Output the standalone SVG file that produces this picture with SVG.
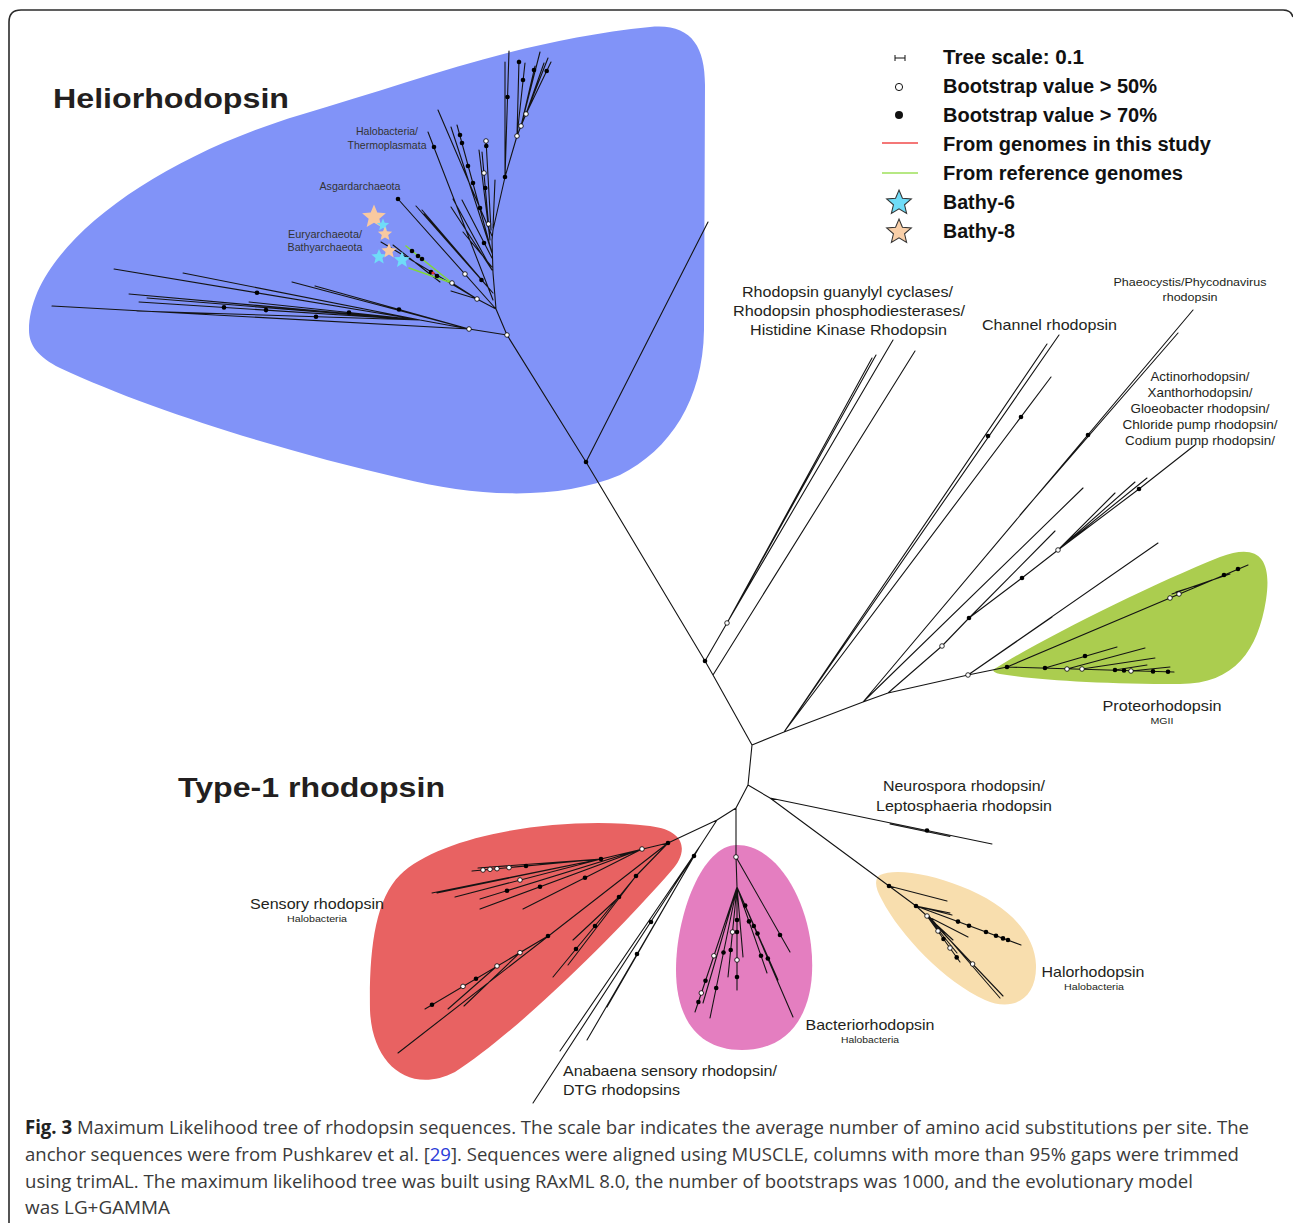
<svg xmlns="http://www.w3.org/2000/svg" width="1293" height="1223" viewBox="0 0 1293 1223">
<style>
text{font-family:"Liberation Sans",Arial,sans-serif;fill:#231f20}
.b{font-weight:bold}
.br{fill:none;stroke:#141414;stroke-width:1.1;stroke-linecap:round;stroke-linejoin:round}
.gr{fill:none;stroke:#7fd83a;stroke-width:1.5;stroke-linecap:round}
.f{fill:#000}
.o{fill:#fff;stroke:#000;stroke-width:0.8}
.l15{font-size:15px}
.sm{font-size:9px}
.hl{font-size:10.5px;fill:#333}
.lg{font-size:19.5px;font-weight:bold;fill:#111}
.cap{font-family:"Open Sans",sans-serif;font-size:19px;fill:#3a3a3a}
</style>
<defs>
<path id="star" d="M0,-10 L2.645,-3.641 L9.511,-3.09 L4.28,1.391 L5.878,8.09 L0,4.5 L-5.878,8.09 L-4.28,1.391 L-9.511,-3.09 L-2.645,-3.641 Z"/>
</defs>
<rect width="1293" height="1223" fill="#fff"/>
<g id="frame"><path d="M9,1223 L9,22 Q9,10 21,10 L1283,10 Q1291,10 1293,17" fill="none" stroke="#2b2b2b" stroke-width="1.6"/></g>

<g id="heliorhodopsin">
<path fill="#8193f8" d="M29,330 C29,250 150,160 300,115 C420,80 520,40 650,27 C690,23 705,45 705,85 L704,330 C703,400 670,450 620,475 C560,500 480,498 400,478 C280,450 150,410 60,368 C38,357 29,345 29,330 Z"/>
<text class="b" x="53" y="108" font-size="27" textLength="236" lengthAdjust="spacingAndGlyphs">Heliorhodopsin</text>
<text class="hl" x="387" y="135" text-anchor="middle" textLength="62" lengthAdjust="spacingAndGlyphs">Halobacteria/</text>
<text class="hl" x="387" y="149" text-anchor="middle" textLength="79" lengthAdjust="spacingAndGlyphs">Thermoplasmata</text>
<text class="hl" x="360" y="190" text-anchor="middle" textLength="81" lengthAdjust="spacingAndGlyphs">Asgardarchaeota</text>
<text class="hl" x="325" y="238" text-anchor="middle" textLength="74" lengthAdjust="spacingAndGlyphs">Euryarchaeota/</text>
<text class="hl" x="325" y="251" text-anchor="middle" textLength="75" lengthAdjust="spacingAndGlyphs">Bathyarchaeota</text>
</g>

<g id="proteorhodopsin">
<path fill="#abcd4f" d="M996,668 C1040,640 1150,585 1220,557 C1260,542 1272,560 1266,600 C1258,650 1235,684 1180,684 C1100,684 1040,680 1000,674 C992,672 992,670 996,668 Z"/>
<text class="l15" x="1162" y="711" text-anchor="middle" textLength="119" lengthAdjust="spacingAndGlyphs">Proteorhodopsin</text>
<text class="sm" x="1162" y="724" text-anchor="middle" textLength="23" lengthAdjust="spacingAndGlyphs">MGII</text>
</g>

<g id="sensory-rhodopsin">
<path fill="#e86262" d="M400,875 C440,835 560,815 650,826 C690,831 686,855 672,870 C620,930 520,1030 455,1072 C410,1095 372,1065 370,1010 C369,950 375,900 400,875 Z"/>
<text class="l15" x="317" y="909" text-anchor="middle" textLength="134" lengthAdjust="spacingAndGlyphs">Sensory rhodopsin</text>
<text class="sm" x="317" y="922" text-anchor="middle" textLength="60" lengthAdjust="spacingAndGlyphs">Halobacteria</text>
</g>

<g id="bacteriorhodopsin">
<path fill="#e47ec0" d="M737,845 C775,845 805,895 811,945 C818,1005 795,1050 742,1050 C695,1050 676,1015 676,970 C676,915 702,845 737,845 Z"/>
<text class="l15" x="870" y="1030" text-anchor="middle" textLength="129" lengthAdjust="spacingAndGlyphs">Bacteriorhodopsin</text>
<text class="sm" x="870" y="1043" text-anchor="middle" textLength="58" lengthAdjust="spacingAndGlyphs">Halobacteria</text>
</g>

<g id="halorhodopsin">
<path fill="#f8deae" d="M880,875 C895,868 930,874 960,886 C1010,905 1035,935 1036,965 C1037,1000 1012,1012 985,1000 C945,982 900,935 882,900 C875,888 874,879 880,875 Z"/>
<text class="l15" x="1093" y="977" text-anchor="middle" textLength="103" lengthAdjust="spacingAndGlyphs">Halorhodopsin</text>
<text class="sm" x="1094" y="990" text-anchor="middle" textLength="60" lengthAdjust="spacingAndGlyphs">Halobacteria</text>
</g>

<g id="type1-title"><text class="b" x="178" y="797" font-size="28" textLength="267" lengthAdjust="spacingAndGlyphs">Type-1 rhodopsin</text></g>

<g id="rgc-label">
<text class="l15" x="742" y="297" textLength="211" lengthAdjust="spacingAndGlyphs">Rhodopsin guanylyl cyclases/</text>
<text class="l15" x="733" y="316" textLength="232" lengthAdjust="spacingAndGlyphs">Rhodopsin phosphodiesterases/</text>
<text class="l15" x="750" y="335" textLength="197" lengthAdjust="spacingAndGlyphs">Histidine Kinase Rhodopsin</text>
</g>
<g id="channel-label"><text class="l15" x="982" y="330" textLength="135" lengthAdjust="spacingAndGlyphs">Channel rhodopsin</text></g>
<g id="phaeocystis-label">
<text x="1190" y="286" font-size="11.5" text-anchor="middle" textLength="153" lengthAdjust="spacingAndGlyphs">Phaeocystis/Phycodnavirus</text>
<text x="1190" y="301" font-size="11.5" text-anchor="middle" textLength="55" lengthAdjust="spacingAndGlyphs">rhodopsin</text>
</g>
<g id="actino-label">
<text x="1200" y="381" text-anchor="middle" font-size="13" textLength="99" lengthAdjust="spacingAndGlyphs">Actinorhodopsin/</text>
<text x="1200" y="397" text-anchor="middle" font-size="13" textLength="105" lengthAdjust="spacingAndGlyphs">Xanthorhodopsin/</text>
<text x="1200" y="413" text-anchor="middle" font-size="13" textLength="139" lengthAdjust="spacingAndGlyphs">Gloeobacter rhodopsin/</text>
<text x="1200" y="429" text-anchor="middle" font-size="13" textLength="155" lengthAdjust="spacingAndGlyphs">Chloride pump rhodopsin/</text>
<text x="1200" y="445" text-anchor="middle" font-size="13" textLength="150" lengthAdjust="spacingAndGlyphs">Codium pump rhodopsin/</text>
</g>
<g id="neurospora-label">
<text class="l15" x="964" y="791" text-anchor="middle" textLength="162" lengthAdjust="spacingAndGlyphs">Neurospora rhodopsin/</text>
<text class="l15" x="964" y="811" text-anchor="middle" textLength="176" lengthAdjust="spacingAndGlyphs">Leptosphaeria rhodopsin</text>
</g>
<g id="anabaena-label">
<text class="l15" x="563" y="1076" textLength="214" lengthAdjust="spacingAndGlyphs">Anabaena sensory rhodopsin/</text>
<text class="l15" x="563" y="1095" textLength="117" lengthAdjust="spacingAndGlyphs">DTG rhodopsins</text>
</g>

<g id="legend">
<path d="M895,58 L905,58 M895,55 L895,61 M905,55 L905,61" stroke="#111" stroke-width="1" fill="none"/>
<circle cx="899" cy="87" r="3.6" fill="#fff" stroke="#111" stroke-width="1"/>
<circle cx="899" cy="115" r="4" fill="#111"/>
<line x1="882" y1="143" x2="918" y2="143" stroke="#f04a4a" stroke-width="1.3"/>
<line x1="882" y1="173" x2="918" y2="173" stroke="#9ee05a" stroke-width="1.6"/>
<use href="#star" transform="translate(899,203) scale(1.3)" fill="#6fdcf8" stroke="#333" stroke-width="0.8"/>
<use href="#star" transform="translate(899,232) scale(1.3)" fill="#f9cfa8" stroke="#333" stroke-width="0.8"/>
<text class="lg" x="943" y="64" textLength="141" lengthAdjust="spacingAndGlyphs">Tree scale: 0.1</text>
<text class="lg" x="943" y="93" textLength="214" lengthAdjust="spacingAndGlyphs">Bootstrap value &gt; 50%</text>
<text class="lg" x="943" y="122" textLength="214" lengthAdjust="spacingAndGlyphs">Bootstrap value &gt; 70%</text>
<text class="lg" x="943" y="151" textLength="268" lengthAdjust="spacingAndGlyphs">From genomes in this study</text>
<text class="lg" x="943" y="180" textLength="240" lengthAdjust="spacingAndGlyphs">From reference genomes</text>
<text class="lg" x="943" y="209" textLength="72" lengthAdjust="spacingAndGlyphs">Bathy-6</text>
<text class="lg" x="943" y="238" textLength="72" lengthAdjust="spacingAndGlyphs">Bathy-8</text>
</g>

<g id="connectors">
<path class="br" d="M507,335 L586,462 L705,661 L713,675 L752,745 L748,785 L736,808 L717,820 L668,843
M752,745 L784,732 L863,702 L888,693 L968,675 L1007,667
M586,462 L708,222
M748,785 L770,798 L992,844 M890,824 L950,836.5
M770,798 L889,886
M736,808 L736,857 L737,887
M705,661 L727,623 L872,358 M727,623 L876,355 M727,623 L893,340 M713,675 L915,351
M784,732 L1059,335 M784,732 L1043,350 M784,732 L1047,344 M784,732 L1051,377 M784,732 L1045,385
M863,702 L1193,310 M1020,515 L1178,333 M863,702 L1083,488
M888,693 L942,646 L969,618 L1022,578 L1058,550 L1139,489 L1195,445
M969,618 L1055,531 M1058,550 L1115,493 M1058,550 L1135,482 M1058,550 L1147,478
M968,675 L1158,543 M968,675 L1052,617
M1007,667 L1248,565 M1172,594 L1212,580 M1176,592 L1205,583 M1180,591 L1230,574
M1007,667 L1174,672 M1045,668 L1117,647 M1067,669 L1145,648 M1082,669 L1155,658 M1115,670 L1147,665 M1131,671 L1170,667
M507,335 L469,329 L52,306 M469,329 L420,320
M420,320 L114,269 M420,320 L183,273 M420,320 L129,294 M420,320 L147,298 M420,320 L139,302 M420,320 L137,311 M420,320 L249,302
M469,329 L292,282 M469,329 L315,286
M507,335 L496,309 L493,273 L492,240 L493,230 L505,177 L517,136 L521,126 L526,114
M505,177 L505,62 M505,177 L509,51 M517,136 L519,60 M517,136 L525,63 M521,126 L535,66 M521,126 L540,52
M526,114 L544,63 M526,114 L551,62 M526,114 L548,58
M493,300 L428,132 M492,236 L438,110 M492,253 L451,127 M492,253 L457,125
M490,240 L479,150 M490,240 L482,152 M491,230 L486,140 M493,228 L495,180
M496,309 L398,199 M493,293 L416,206 M493,293 L422,210 M493,293 L424,214
M492,270 L451,207 M492,270 L453,199 M492,258 L462,200 M492,267 L463,232
M496,309 L477,299 L381,242 M440,282 L393,245 M477,299 L452,283 M477,299 L451,291
M668,843 L601,859 L472,871 M601,859 L478,868 M601,859 L432,893 M601,859 L437,893 M601,859 L455,897
M642,849 L480,899 M642,849 L480,909 M642,849 L523,909
M668,843 L398,1053 M548,936 L425,1009 M520,952.6 L464,1006 M497,966 L448,1009
M668,843 L636,876 L553,977 M636,876 L568,965 M619,897 L573,940 M595,926 L571,955
M717,820 L533,1103 M700,846 L560,1051 M700,846 L587,1040 M694,856 L607,1007
M736,857 L790,952
M737,887 L793,1017 M737,887 L778,980 M737,887 L767,973 M737,887 L737,990 M737,887 L728,977 M737,887 L743,957
M737,887 L695,1012 M737,887 L710,1018 M737,887 L703,1003
M889,886 L947,901 M889,886 L916,906 L1021,945 M916,906 L952,915 M916,906 L950,913 M916,906 L927,916
M927,916 L968,937 M927,916 L1003,996 M929,916 L1000,998 M927,916 L960,962 M927,916 L953,940 M927,916 L957,953"/>
<path class="gr" d="M452,283 L406,246 M452,283 L409,268"/>
<g id="stars">
<use href="#star" transform="translate(374,217) scale(1.25)" fill="#f9c9a0"/>
<use href="#star" transform="translate(383,225) scale(0.65)" fill="#6fdcf8"/>
<use href="#star" transform="translate(385,234) scale(0.75)" fill="#f9c9a0"/>
<use href="#star" transform="translate(379,257) scale(0.8)" fill="#6fdcf8"/>
<use href="#star" transform="translate(389,251) scale(0.8)" fill="#f9c9a0"/>
<use href="#star" transform="translate(402,260) scale(0.85)" fill="#6fdcf8"/>
</g>
<g id="bootstraps">
<circle class="o" cx="507" cy="335" r="2.3"/><circle class="f" cx="586" cy="462" r="2.3"/>
<circle class="f" cx="705" cy="661" r="2.3"/><circle class="o" cx="727" cy="623" r="2.3"/>
<circle class="o" cx="968" cy="675" r="2.3"/><circle class="f" cx="1007" cy="667" r="2.3"/>
<circle class="f" cx="988" cy="436" r="2.3"/><circle class="f" cx="1021" cy="417" r="2.3"/>
<circle class="f" cx="1088" cy="435" r="2.3"/>
<circle class="o" cx="942" cy="646" r="2.3"/><circle class="f" cx="969" cy="618" r="2.3"/><circle class="f" cx="1022" cy="578" r="2.3"/>
<circle class="o" cx="1058" cy="550" r="2.3"/><circle class="f" cx="1139" cy="489" r="2.3"/>
<circle class="o" cx="1170" cy="598" r="2.3"/><circle class="o" cx="1179" cy="594" r="2.3"/><circle class="f" cx="1224" cy="575" r="2.3"/><circle class="f" cx="1238" cy="569" r="2.3"/>
<circle class="f" cx="1045" cy="668" r="2.3"/><circle class="o" cx="1067" cy="669" r="2.3"/><circle class="o" cx="1082" cy="669" r="2.3"/>
<circle class="f" cx="1115" cy="670" r="2.3"/><circle class="f" cx="1124" cy="670.5" r="2.3"/><circle class="o" cx="1131" cy="671" r="2.3"/>
<circle class="f" cx="1153" cy="671.4" r="2.3"/><circle class="f" cx="1168" cy="671.8" r="2.3"/><circle class="f" cx="1085" cy="656" r="2.3"/>
<circle class="o" cx="469" cy="329" r="2.3"/>
<circle class="f" cx="257" cy="292.8" r="2.3"/><circle class="f" cx="224" cy="307.4" r="2.3"/><circle class="f" cx="266" cy="310.1" r="2.3"/>
<circle class="f" cx="316" cy="316.7" r="2.3"/><circle class="f" cx="349" cy="312.5" r="2.3"/><circle class="f" cx="399" cy="309.5" r="2.3"/>
<circle class="f" cx="505" cy="177" r="2.3"/><circle class="o" cx="517" cy="136" r="2.3"/><circle class="o" cx="521" cy="126" r="2.3"/><circle class="o" cx="526" cy="114" r="2.3"/>
<circle class="f" cx="507.5" cy="97" r="2.3"/><circle class="f" cx="519" cy="62" r="2.3"/><circle class="f" cx="523" cy="80" r="2.3"/>
<circle class="f" cx="534" cy="70" r="2.3"/><circle class="f" cx="546.7" cy="71" r="2.3"/>
<circle class="f" cx="434" cy="147" r="2.3"/>
<circle class="f" cx="460" cy="135" r="2.3"/><circle class="f" cx="462" cy="143" r="2.3"/><circle class="f" cx="468" cy="166" r="2.3"/>
<circle class="f" cx="473" cy="183" r="2.3"/><circle class="f" cx="480" cy="208" r="2.3"/>
<circle class="o" cx="486" cy="141" r="2.3"/><circle class="f" cx="486.3" cy="146" r="2.3"/>
<circle class="o" cx="484" cy="173" r="2.3"/><circle class="f" cx="485.3" cy="188" r="2.3"/><circle class="o" cx="488.5" cy="224" r="2.3"/>
<circle class="f" cx="484" cy="243" r="2.3"/><circle class="f" cx="481.5" cy="280" r="2.3"/>
<circle class="o" cx="465" cy="274" r="2.3"/><circle class="f" cx="398" cy="199" r="2.3"/>
<circle class="f" cx="412" cy="251" r="2.3"/><circle class="f" cx="418" cy="256" r="2.3"/><circle class="f" cx="422" cy="259" r="2.3"/>
<circle class="f" cx="431" cy="272" r="2.3"/><circle class="f" cx="437" cy="276" r="2.3"/><circle cx="433" cy="273" r="1.6" fill="#e83030"/>
<circle class="o" cx="452" cy="283" r="2.3"/><circle class="o" cx="477" cy="299" r="2.3"/>
<circle class="f" cx="668" cy="843" r="2.3"/><circle class="o" cx="642" cy="849" r="2.3"/><circle class="f" cx="601" cy="859" r="2.3"/>
<circle class="f" cx="526" cy="866" r="2.3"/><circle class="o" cx="509" cy="867.6" r="2.3"/><circle class="o" cx="497" cy="868.7" r="2.3"/>
<circle class="o" cx="490" cy="869.3" r="2.3"/><circle class="o" cx="483" cy="870" r="2.3"/><circle class="o" cx="520" cy="880" r="2.3"/>
<circle class="f" cx="507" cy="890.7" r="2.3"/><circle class="f" cx="540" cy="886.8" r="2.3"/><circle class="f" cx="585" cy="877.7" r="2.3"/>
<circle class="f" cx="548" cy="936" r="2.3"/><circle class="o" cx="520" cy="952.6" r="2.3"/><circle class="f" cx="476" cy="978.7" r="2.3"/>
<circle class="o" cx="463" cy="986.4" r="2.3"/><circle class="f" cx="432" cy="1004.8" r="2.3"/><circle class="o" cx="497" cy="966" r="2.3"/>
<circle class="f" cx="636" cy="876" r="2.3"/><circle class="f" cx="619" cy="897" r="2.3"/><circle class="f" cx="595" cy="926" r="2.3"/><circle class="f" cx="576" cy="949" r="2.3"/>
<circle class="f" cx="694" cy="856" r="2.3"/><circle class="f" cx="651" cy="922" r="2.3"/><circle class="f" cx="637" cy="954" r="2.3"/>
<circle class="o" cx="736" cy="857" r="2.3"/><circle class="f" cx="780" cy="935" r="2.3"/>
<circle class="f" cx="753.8" cy="926" r="2.3"/><circle class="f" cx="767.8" cy="958.5" r="2.3"/><circle class="f" cx="745.2" cy="905.6" r="2.3"/>
<circle class="f" cx="757.5" cy="933.5" r="2.3"/><circle class="f" cx="749" cy="921.4" r="2.3"/><circle class="f" cx="761" cy="955.8" r="2.3"/>
<circle class="f" cx="737" cy="920" r="2.3"/><circle class="f" cx="737" cy="932" r="2.3"/><circle class="o" cx="737" cy="960" r="2.3"/><circle class="f" cx="737" cy="977" r="2.3"/>
<circle class="o" cx="732.5" cy="932" r="2.3"/><circle class="f" cx="730.7" cy="950" r="2.3"/>
<circle class="o" cx="713.9" cy="955.8" r="2.3"/><circle class="f" cx="705.5" cy="980.8" r="2.3"/><circle class="o" cx="701.3" cy="993" r="2.3"/><circle class="f" cx="698.4" cy="1002" r="2.3"/>
<circle class="f" cx="723.5" cy="952.5" r="2.3"/><circle class="f" cx="716.2" cy="988" r="2.3"/>
<circle class="f" cx="889" cy="886" r="2.3"/><circle class="f" cx="916" cy="906" r="2.3"/><circle class="o" cx="927" cy="916" r="2.3"/>
<circle class="f" cx="927" cy="830.5" r="2.3"/>
<circle class="f" cx="958" cy="921.6" r="2.3"/><circle class="f" cx="969" cy="925.7" r="2.3"/><circle class="f" cx="986" cy="932" r="2.3"/>
<circle class="f" cx="996" cy="935.7" r="2.3"/><circle class="f" cx="1003" cy="938.4" r="2.3"/><circle class="f" cx="1008" cy="940" r="2.3"/>
<circle class="o" cx="972.6" cy="964" r="2.3"/><circle class="o" cx="938" cy="931" r="2.3"/><circle class="f" cx="943.5" cy="939" r="2.3"/>
<circle class="o" cx="950" cy="948" r="2.3"/><circle class="f" cx="956.7" cy="957.4" r="2.3"/>
</g>
</g>

<g id="caption">
<text class="cap" x="25" y="1134" textLength="1224" lengthAdjust="spacingAndGlyphs"><tspan font-weight="bold" fill="#222">Fig. 3</tspan> Maximum Likelihood tree of rhodopsin sequences. The scale bar indicates the average number of amino acid substitutions per site. The</text>
<text class="cap" x="25" y="1161" textLength="1214" lengthAdjust="spacingAndGlyphs">anchor sequences were from Pushkarev et al. [<tspan style="fill:#2a3bd8">29</tspan>]. Sequences were aligned using MUSCLE, columns with more than 95% gaps were trimmed</text>
<text class="cap" x="25" y="1188" textLength="1168" lengthAdjust="spacingAndGlyphs">using trimAL. The maximum likelihood tree was built using RAxML 8.0, the number of bootstraps was 1000, and the evolutionary model</text>
<text class="cap" x="25" y="1214" textLength="145" lengthAdjust="spacingAndGlyphs">was LG+GAMMA</text>
</g>
</svg>
